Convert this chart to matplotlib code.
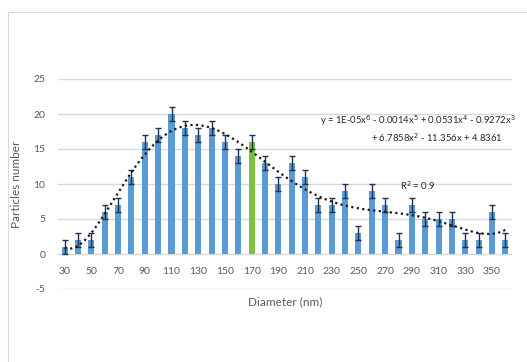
import matplotlib.pyplot as plt
import matplotlib.patches as patches
import numpy as np

# particle size distribution
diameters = list(range(30, 361, 10))
counts = [1, 2, 2, 6, 7, 11, 16, 17, 20, 18, 17, 18, 16, 14, 16, 13, 10,
          13, 11, 7, 7, 9, 3, 9, 7, 2, 7, 5, 5, 5, 2, 2, 6, 2]
errors = [1] * len(counts)
highlight = 170

plt.rcParams['font.family'] = ['Lato', 'DejaVu Sans']
plt.rcParams['axes.unicode_minus'] = False

fig = plt.figure(figsize=(5.27, 3.62), dpi=100)
fig.patches.append(patches.Rectangle((8 / 527, -0.1), 1.2, 1 - 12 / 362 + 0.1,
                                     transform=fig.transFigure, fill=False,
                                     edgecolor='#d9d9d9', linewidth=0.8))
ax = fig.add_axes([58 / 527, 1 - 289 / 362, 454 / 527, 210 / 362])

idx = np.arange(1, len(diameters) + 1)
colors = ['#7cc242' if d == highlight else '#5b9bd5' for d in diameters]
ax.bar(idx, counts, width=0.45, color=colors, zorder=2)
ax.errorbar(idx, counts, yerr=errors, fmt='none', ecolor='#1f3050',
            elinewidth=1.0, capsize=2.5, capthick=1.0, zorder=3)

# 6th order polynomial trendline
coef = np.polyfit(idx, counts, 6)
xs = np.linspace(1, len(diameters), 300)
ax.plot(xs, np.polyval(coef, xs), color='#1a1a1a', linestyle=(0, (1, 1.5)),
        linewidth=1.6, zorder=4)

ax.set_xlim(0.5, len(diameters) + 0.5)
ax.set_ylim(-5, 25)
ax.set_yticks(range(-5, 26, 5))
ax.set_xticks(idx[::2])
ax.set_xticklabels([str(d) for d in diameters[::2]])
ax.spines['bottom'].set_position(('data', 0))
for s in ax.spines.values():
    s.set_visible(False)
ax.tick_params(axis='both', length=0, labelsize=7.5, labelcolor='#595959')
ax.tick_params(axis='x', pad=9)
ax.tick_params(axis='y', pad=9)
ax.grid(axis='y', color='#d9d9d9', linewidth=1.0, zorder=0)
ax.set_axisbelow(True)

ax.set_ylabel('Particles number', fontsize=8.5, color='#595959', labelpad=8)
fig.text(285 / 527, 1 - 302 / 362, 'Diameter (nm)', fontsize=8.5,
         color='#595959', ha='center', va='center')

fig.text(418 / 527, 1 - 121 / 362,
         'y = 1E-05x$^6$ - 0.0014x$^5$ + 0.0531x$^4$ - 0.9272x$^3$',
         fontsize=6.8, color='#262626', ha='center', va='center')
fig.text(437 / 527, 1 - 138 / 362, '+ 6.7858x$^2$ - 11.356x + 4.8361',
         fontsize=6.8, color='#262626', ha='center', va='center')
fig.text(418 / 527, 1 - 186 / 362, 'R$^2$ = 0.9', fontsize=6.8,
         color='#262626', ha='center', va='center')

plt.savefig('out.png', dpi=100)
plt.close()
